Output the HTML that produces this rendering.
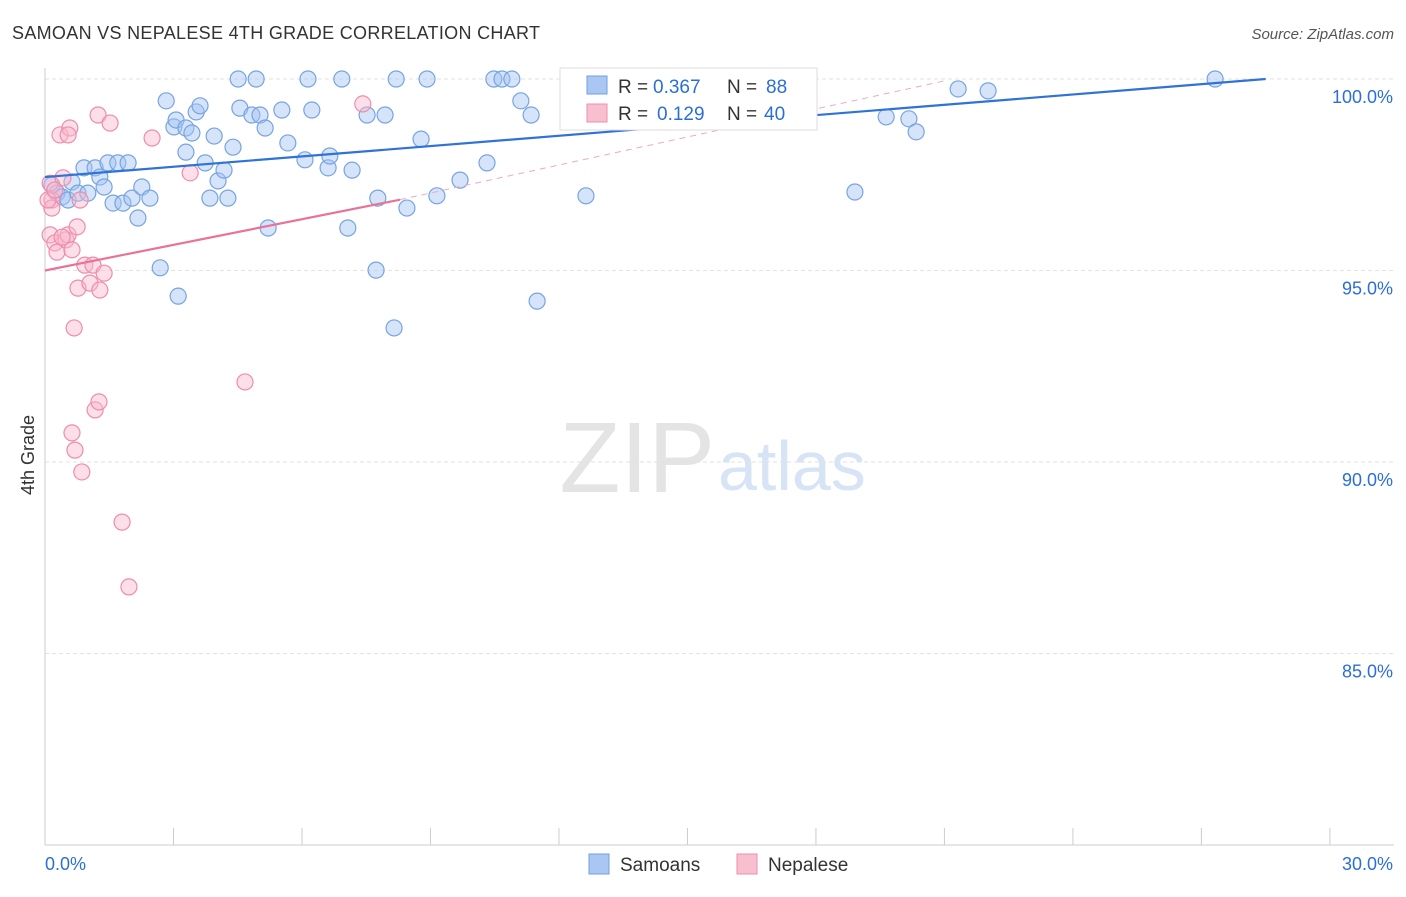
<!DOCTYPE html>
<html><head><meta charset="utf-8"><style>
body{margin:0;background:#fff;font-family:"Liberation Sans",sans-serif;}
svg text{font-family:"Liberation Sans",sans-serif;}
</style></head><body>
<svg id="c" width="1406" height="892" viewBox="0 0 1406 892">
<text x="12" y="39" font-size="18" fill="#333" textLength="528">SAMOAN VS NEPALESE 4TH GRADE CORRELATION CHART</text>
<text x="1394" y="39" font-size="15" fill="#555" text-anchor="end" font-style="italic">Source: ZipAtlas.com</text>
<text x="34" y="455" font-size="18" fill="#333" transform="rotate(-90 34 455)" text-anchor="middle">4th Grade</text>
<text x="715" y="492" font-size="100" fill="#e4e4e4" text-anchor="end" font-family="Liberation Serif">ZIP</text>
<text x="718" y="490" font-size="70" fill="#d6e4f6">atlas</text>
<g id="grid"></g><g id="axes"></g><g id="pts"></g><g id="lines"></g>
<g>
<rect x="560" y="68" width="257" height="62" fill="#fff" stroke="#ddd"/>
<rect x="587" y="76" width="20" height="18" fill="#a9c7f2" stroke="#6fa0e0"/>
<text x="618" y="93" font-size="19" fill="#333">R =</text><text x="653" y="93" font-size="19" fill="#2b6fd6">0.367</text>
<text x="727" y="93" font-size="19" fill="#333">N =</text><text x="766" y="93" font-size="19" fill="#2b6fd6">88</text>
<rect x="587" y="104" width="20" height="18" fill="#f8bfd0" stroke="#f08cab"/>
<text x="618" y="120" font-size="19" fill="#333">R =</text><text x="657" y="120" font-size="19" fill="#2b6fd6">0.129</text>
<text x="727" y="120" font-size="19" fill="#333">N =</text><text x="764" y="120" font-size="19" fill="#2b6fd6">40</text>
</g>
<g>
<rect x="589" y="854" width="20" height="20" fill="#a9c7f2" stroke="#6fa0e0"/>
<text x="620" y="871" font-size="19" fill="#333">Samoans</text>
<rect x="737" y="854" width="20" height="20" fill="#f8bfd0" stroke="#f08cab"/>
<text x="768" y="871" font-size="19" fill="#333">Nepalese</text>
</g>
<text x="45" y="870" font-size="18" fill="#2b6fd6">0.0%</text>
<text x="1393" y="870" font-size="18" fill="#2b6fd6" text-anchor="end">30.0%</text>
</svg>
<script>
const yTicks=[100,95,90,85];
const blueX=[0.16,0.28,0.40,0.54,0.63,0.77,0.91,1.00,1.17,1.28,1.38,1.47,1.59,1.70,1.82,1.94,2.03,2.17,2.26,2.45,2.69,2.83,3.01,3.11,3.06,3.29,3.29,3.43,3.53,3.62,3.74,3.85,3.95,4.04,4.18,4.27,4.39,4.51,4.55,4.83,4.93,5.02,5.14,5.21,5.53,5.67,6.07,6.14,6.23,6.61,6.65,6.93,7.07,7.17,7.52,7.73,7.77,7.94,8.15,8.20,8.45,8.78,8.92,9.15,9.69,10.32,10.48,10.67,10.90,11.11,11.35,11.49,12.35,12.63,13.94,14.99,17.58,18.91,19.64,20.17,20.34,21.32,22.02,27.32];
const blueY=[97.23,97.02,96.92,96.84,97.31,97.02,97.68,97.02,97.68,97.44,97.18,97.81,96.76,97.81,96.76,97.81,96.89,96.37,97.18,96.89,95.07,99.43,98.75,94.33,98.93,98.09,98.72,98.59,99.14,99.30,97.81,96.89,98.51,97.34,97.62,96.89,98.22,100,99.24,99.06,100,99.06,98.72,96.11,99.19,98.33,97.89,100,99.19,97.68,97.99,100,96.11,97.62,99.06,95.01,96.89,99.06,93.50,100,96.63,98.43,100,96.95,97.36,97.81,100,100,100,99.43,99.06,94.20,100,96.95,100,100,98.93,97.05,99.01,98.96,98.62,99.74,99.69,100];
const pinkX=[0.12,0.16,0.16,0.12,0.23,0.28,0.35,0.42,0.49,0.54,0.58,0.54,0.63,0.68,0.63,0.70,0.75,0.77,0.82,0.86,0.93,1.05,1.12,1.17,1.24,1.26,1.28,1.38,1.52,1.80,1.96,2.50,3.39,4.67,7.42,0.07,0.23,0.40];
const pinkY=[97.28,96.84,96.63,95.93,95.72,95.48,98.54,97.42,95.80,95.93,98.72,98.54,95.54,93.50,90.76,90.31,96.14,94.54,96.84,89.74,95.14,94.67,95.14,91.36,99.06,91.57,94.49,94.93,98.85,88.43,86.74,98.46,97.55,92.09,99.35,96.84,97.10,95.87];
const blueTrend=[0,97.44,28.5,100];
const pinkSolid=[0,95.0,8.29,96.85];
const pinkDash=[8.29,96.85,21.0,99.95];
const X=v=>45+v*42.83, Y=v=>79+(100-v)*38.3;
const NS="http://www.w3.org/2000/svg";
function mk(t,a,p){const e=document.createElementNS(NS,t);for(const k in a)e.setAttribute(k,a[k]);p.appendChild(e);return e;}
const grid=document.getElementById('grid'),axes=document.getElementById('axes'),pts=document.getElementById('pts'),lines=document.getElementById('lines');
yTicks.forEach(t=>{
 const l=mk('line',{x1:45,x2:1394,y1:Y(t),y2:Y(t),stroke:'#e2e2e2','stroke-dasharray':'4,3'},grid);
 
 
 const tx=mk('text',{x:1393,y:Y(t)+24,'font-size':18,fill:'#2b6fd6','text-anchor':'end'},grid);
 tx.textContent=t.toFixed(1)+'%';
 
 
});
const ya=mk('line',{x1:45,x2:45,y1:68,y2:845,stroke:'#ccc'},axes);


const xa=mk('line',{x1:45,x2:1394,y1:845,y2:845,stroke:'#ccc'},axes);


for(let i=0;i<=10;i++){
 const t=mk('line',{x1:X(i*3),x2:X(i*3),y1:828,y2:845,stroke:'#ccc'},axes);
 
 
}
blueX.forEach((v,i)=>{
 const c=mk('circle',{cx:X(v),cy:Y(blueY[i]),r:8,fill:'rgba(164,196,242,0.45)',stroke:'#76a4e2','stroke-width':1.2},pts);
 
 
});
pinkX.forEach((v,i)=>{
 const c=mk('circle',{cx:X(v),cy:Y(pinkY[i]),r:8,fill:'rgba(248,184,204,0.45)',stroke:'#f08cab','stroke-width':1.2},pts);
 
 
});
function ln(a,st,extra,name){
 const l=mk('line',Object.assign({x1:X(a[0]),y1:Y(a[1]),x2:X(a[2]),y2:Y(a[3]),stroke:st},extra),lines);
 
 
}
ln(blueTrend,'#2f72d8',{'stroke-width':2.2},'samoans-trend-line');
ln(pinkSolid,'#e8739a',{'stroke-width':2.2},'nepalese-trend-line');
ln(pinkDash,'#eeaac0',{'stroke-width':1,'stroke-dasharray':'6,5'},'nepalese-trend-extension');
</script>
</body></html>
